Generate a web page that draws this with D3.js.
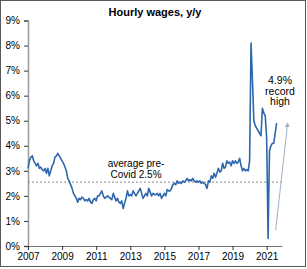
<!DOCTYPE html>
<html>
<head>
<meta charset="utf-8">
<script src="https://cdn.jsdelivr.net/npm/d3@7"></script>
<style>
  body { margin: 0; background: #fff; }
  svg { font-family: "Liberation Sans", Arial, sans-serif; }
  .tick text { font-size: 10px; fill: #000; }
</style>
</head>
<body>
<svg id="chart" width="307" height="269"></svg>
<script>
// monthly y/y % change in average hourly earnings, Mar 2007 .. Oct 2021
var firstMonth = 2007; // first point sits on the 2007 tick
var wages = [
  3.1, 3.4, 3.55, 3.6, 3.4, 3.3, 3.2, 3.3, 3.1, 3.15,
  3.05, 3.0, 3.1, 2.9, 3.1, 2.8, 3.0, 3.2, 3.3, 3.55,
  3.6, 3.7, 3.6, 3.5, 3.4, 3.3, 3.15, 3.0, 2.7, 2.6,
  2.45, 2.3, 2.1, 2.0, 1.9, 1.75, 1.9, 1.85, 1.95, 1.9,
  1.8, 1.85, 1.8, 1.9, 1.75, 1.7, 1.85, 1.9, 1.8, 2.0,
  2.0, 2.1, 2.2, 2.0, 1.9, 1.95, 2.0, 1.95, 1.9, 1.85,
  2.1, 1.95, 1.8, 1.9, 1.75, 1.7, 1.8, 1.5, 1.7, 1.9,
  2.2, 2.0, 2.05, 2.0, 2.2, 2.1, 2.0, 2.1, 2.2, 2.3,
  2.1, 1.9, 2.0, 2.1, 2.0, 2.3, 2.15, 2.0, 2.1, 2.05,
  2.05, 2.1, 2.0, 2.1, 1.9, 2.0, 2.1, 2.0, 2.25, 2.2,
  2.2, 2.3, 2.45, 2.5, 2.45, 2.6, 2.5, 2.55, 2.5, 2.6,
  2.55, 2.6, 2.7, 2.6, 2.65, 2.6, 2.7, 2.6, 2.55, 2.6,
  2.55, 2.6, 2.5, 2.55, 2.5, 2.45, 2.3, 2.6, 2.55, 2.8,
  2.7, 2.9, 2.75, 2.9, 3.1, 2.95, 3.0, 3.3, 3.1, 3.15,
  3.4, 3.3, 3.35, 3.2, 3.4, 3.3, 3.4, 3.3, 3.35, 3.5,
  3.2, 3.0, 3.1, 3.0, 3.05, 3.0, 3.4, 8.1, 6.6, 5.0,
  4.8, 4.7, 4.6, 4.5, 4.4, 5.5, 5.3, 5.2, 4.3, 0.3,
  3.8, 4.0, 4.1, 4.1, 4.5, 4.9
];
var yearTicks = [2007, 2009, 2011, 2013, 2015, 2017, 2019, 2021];
var pctTicks = [0, 1, 2, 3, 4, 5, 6, 7, 8, 9];
var avgPreCovid = 2.55;
var avgLabel = ["average pre-", "Covid 2.5%"];
var noteLabel = ["4.9%", "record", "high"];
var arrowFrom = [2021.53, 0.64];
var arrowTo = [2022.23, 4.9];

var svg = d3.select("#chart");

var x = d3.scaleLinear().domain([2007, 2021.9]).range([28, 282]);
var y = d3.scaleLinear().domain([0, 9]).range([246, 20.5]);

// frame
svg.append("rect")
  .attr("x", 0.5).attr("y", 0.5)
  .attr("width", 305).attr("height", 266)
  .attr("fill", "none").attr("stroke", "#595959");

// title
svg.append("text")
  .attr("x", 155).attr("y", 16)
  .attr("text-anchor", "middle")
  .style("font-size", "11px").style("font-weight", "bold")
  .text("Hourly wages, y/y");

// axes
var yAxis = svg.append("g")
  .attr("transform", "translate(28,0)")
  .call(d3.axisLeft(y).tickValues(pctTicks).tickFormat(function(d) { return d + "%"; })
    .tickSize(4).tickPadding(4));
yAxis.select(".domain").attr("stroke", "#999").attr("stroke-width", 1.5);
yAxis.selectAll(".tick line").attr("stroke", "#333");

var xAxis = svg.append("g")
  .attr("transform", "translate(0,246)")
  .call(d3.axisBottom(x).tickValues(yearTicks).tickFormat(d3.format("d"))
    .tickSize(4).tickPadding(4).tickSizeOuter(0));
xAxis.select(".domain").attr("stroke", "#777");
xAxis.selectAll(".tick line").attr("stroke", "#333");
xAxis.selectAll(".tick text").attr("dy", "0.71em").attr("y", 7);

// pre-covid average
svg.append("line")
  .attr("x1", x(2007)).attr("x2", x(2021.9))
  .attr("y1", y(avgPreCovid)).attr("y2", y(avgPreCovid))
  .attr("stroke", "#8c8c8c").attr("stroke-width", 1)
  .attr("stroke-dasharray", "2,2");

// wages line
var line = d3.line()
  .x(function(d, i) { return x(firstMonth + i / 12); })
  .y(function(d) { return y(d); });

svg.append("path")
  .datum(wages)
  .attr("d", line)
  .attr("fill", "none")
  .attr("stroke", "#2e67ab")
  .attr("stroke-width", 1.6)
  .attr("stroke-linejoin", "round");

// annotations
svg.append("text")
  .attr("x", 136).attr("y", 167)
  .attr("text-anchor", "middle")
  .style("font-size", "10px")
  .selectAll("tspan").data(avgLabel).enter().append("tspan")
  .attr("x", 136).attr("dy", function(d, i) { return i ? 11 : 0; })
  .text(function(d) { return d; });

svg.append("text")
  .attr("x", 280).attr("y", 84)
  .attr("text-anchor", "middle")
  .style("font-size", "10.5px")
  .selectAll("tspan").data(noteLabel).enter().append("tspan")
  .attr("x", 280).attr("dy", function(d, i) { return i ? 10.5 : 0; })
  .text(function(d) { return d; });

svg.append("defs").append("marker")
  .attr("id", "head")
  .attr("viewBox", "0 0 10 10")
  .attr("refX", 8).attr("refY", 5)
  .attr("markerWidth", 5).attr("markerHeight", 5)
  .attr("orient", "auto")
  .append("path").attr("d", "M0,0L10,5L0,10z").attr("fill", "#9fb2cb");

svg.append("line")
  .attr("x1", x(arrowFrom[0])).attr("y1", y(arrowFrom[1]))
  .attr("x2", x(arrowTo[0])).attr("y2", y(arrowTo[1]))
  .attr("stroke", "#9fb2cb").attr("stroke-width", 1)
  .attr("marker-end", "url(#head)");
</script>
</body>
</html>
